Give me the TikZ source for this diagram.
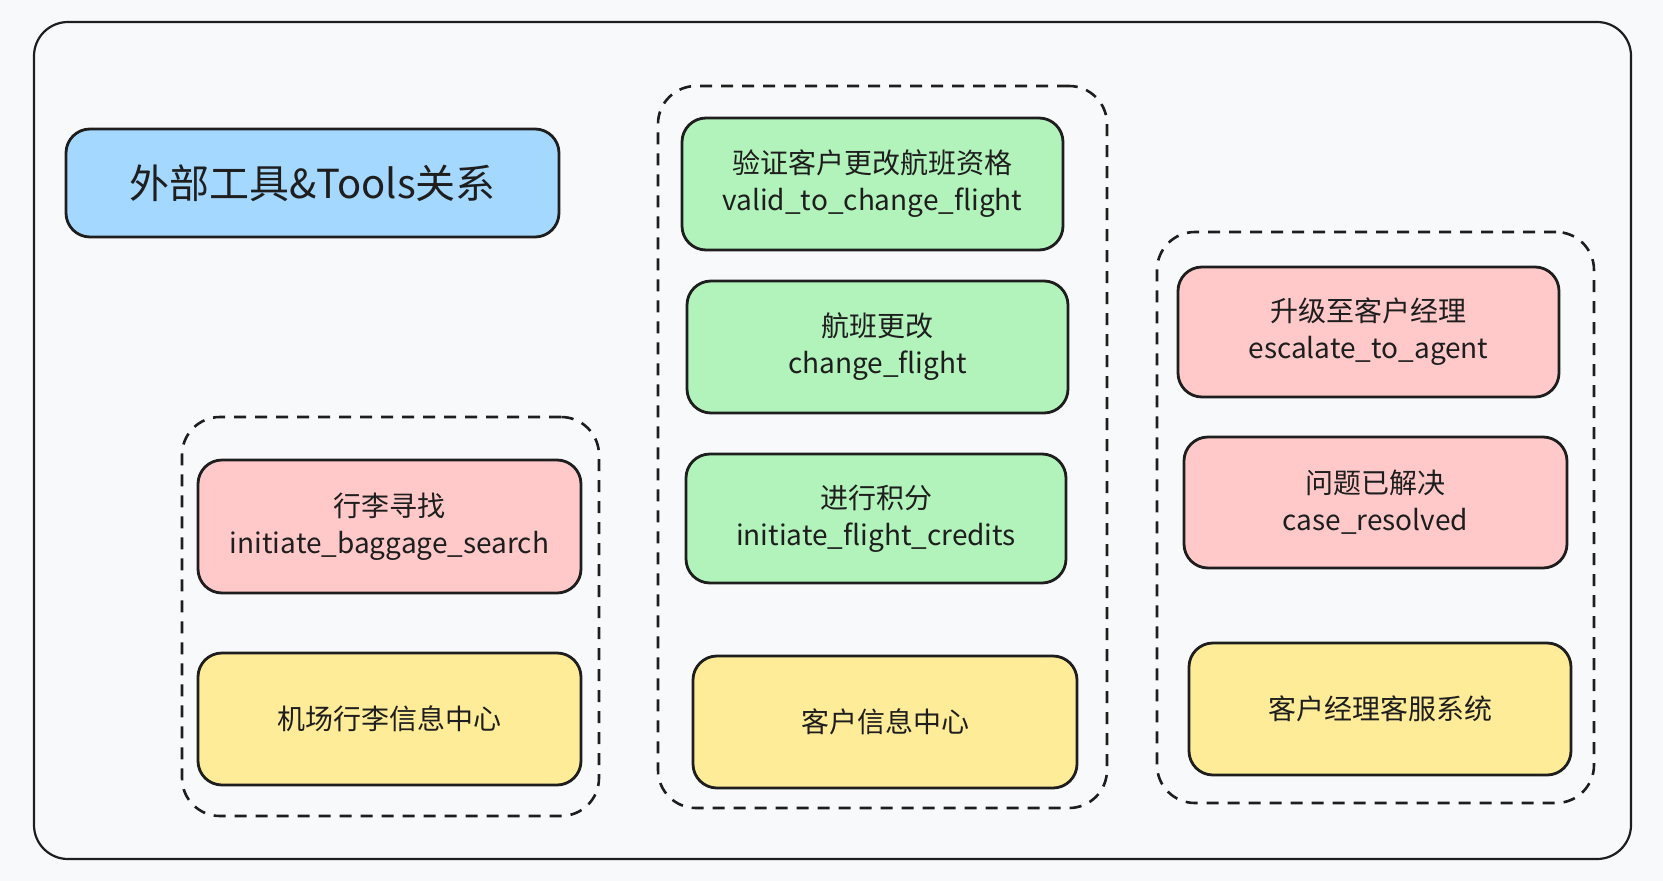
\documentclass[tikz,border=0pt]{standalone}
\usepackage{fontspec}
\newfontfamily\cjk{Noto Sans CJK SC}
\definecolor{bgc}{HTML}{F8F9FA}
\definecolor{ink}{HTML}{1E1E1E}
\definecolor{blueF}{HTML}{A5D8FF}
\definecolor{greenF}{HTML}{B2F2BB}
\definecolor{pinkF}{HTML}{FFC9C9}
\definecolor{yellowF}{HTML}{FFEC99}
\tikzset{
  card/.style={draw=ink, line width=2.8pt, rounded corners=24pt, align=center,
    text=ink, inner sep=0pt, font=\cjk\fontsize{28}{37}\selectfont},
  greencard/.style={card, fill=greenF},
  pinkcard/.style={card, fill=pinkF},
  yellowcard/.style={card, fill=yellowF},
  groupbox/.style={draw=ink, line width=2.6pt, dash pattern=on 12pt off 9pt,
    rounded corners=38pt, inner sep=0pt},
  frame/.style={draw=ink, line width=2.2pt, rounded corners=34pt, inner sep=0pt}
}
\begin{document}
\begin{tikzpicture}[x=1pt,y=-1pt]
\fill[bgc] (0,0) rectangle (1663,881);
\useasboundingbox (0,0) rectangle (1663,881);
% outer frame
\node[frame, minimum width=1597pt, minimum height=837pt] (outer) at (832.5,440.5) {};
% groups
\node[groupbox, minimum width=417pt, minimum height=399pt] (gl) at (390.5,616.5) {};
\node[groupbox, minimum width=449pt, minimum height=722pt] (gm) at (882.5,447) {};
\node[groupbox, minimum width=437pt, minimum height=571pt] (gr) at (1375.5,517.5) {};
% title
\node[card, fill=blueF, minimum width=493pt, minimum height=108pt,
  font=\cjk\fontsize{40}{44}\selectfont] (title) at (312.5,183) {外部工具\&Tools关系};
% left group
\node[pinkcard, minimum width=383pt, minimum height=133pt] (l1) at (389.5,526.5)
  {行李寻找\\initiate\_baggage\_search};
\node[yellowcard, minimum width=383pt, minimum height=132pt] (l2) at (389.5,719)
  {机场行李信息中心};
% middle group
\node[greencard, minimum width=381pt, minimum height=132pt] (m1) at (872.5,184)
  {验证客户更改航班资格\\valid\_to\_change\_flight};
\node[greencard, minimum width=381pt, minimum height=132pt] (m2) at (877.5,347)
  {航班更改\\change\_flight};
\node[greencard, minimum width=380pt, minimum height=129pt] (m3) at (876,518.5)
  {进行积分\\initiate\_flight\_credits};
\node[yellowcard, minimum width=384pt, minimum height=132pt] (m4) at (885,722)
  {客户信息中心};
% right group
\node[pinkcard, minimum width=381pt, minimum height=130pt] (r1) at (1368.5,332)
  {升级至客户经理\\escalate\_to\_agent};
\node[pinkcard, minimum width=383pt, minimum height=131pt] (r2) at (1375.5,502.5)
  {问题已解决\\case\_resolved};
\node[yellowcard, minimum width=382pt, minimum height=132pt] (r3) at (1380,709)
  {客户经理客服系统};
\end{tikzpicture}
\end{document}
